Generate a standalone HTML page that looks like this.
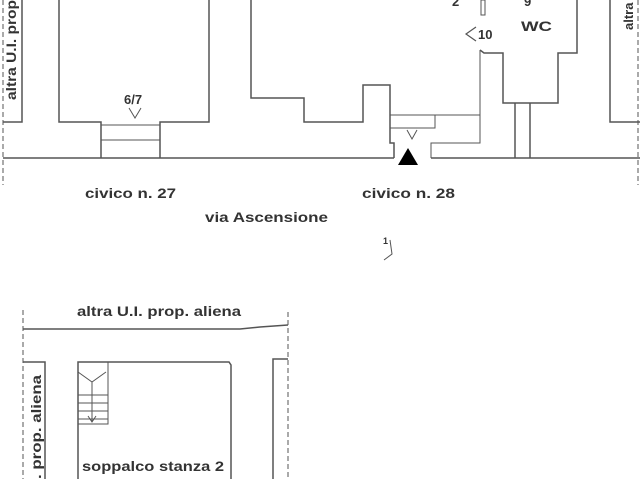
<!DOCTYPE html>
<html><head><meta charset="utf-8"><style>
html,body{margin:0;padding:0;background:#fff;}
svg{display:block;}
text{font-family:"Liberation Sans",sans-serif;font-weight:bold;fill:#333;}
</style></head><body>
<svg width="640" height="479" viewBox="0 0 640 479" xmlns="http://www.w3.org/2000/svg">
<g stroke="#555" stroke-width="1.5" fill="none">
<line x1="3" y1="0" x2="3" y2="185" stroke-dasharray="5,3" stroke-width="1"/>
<line x1="638" y1="0" x2="638" y2="185" stroke-dasharray="5,3" stroke-width="1"/>
<polyline points="22,0 22,122 3,122"/>
<polyline points="59,0 59,122 101,122 101,158"/>
<polyline points="209,0 209,122 160,122 160,158"/>
<line x1="101" y1="125" x2="160" y2="125" stroke-width="1"/>
<line x1="101" y1="140" x2="160" y2="140" stroke-width="1"/>
<polyline points="251,0 251,98 304,98 304,122 363,122 363,85 390,85 390,143 394,143 394,158"/>
<line x1="390" y1="115" x2="480" y2="115" stroke-width="1"/>
<polyline points="390,128 435,128 435,115" stroke-width="1"/>
<polyline points="480,50 480,143 431,143 431,158" stroke-width="1"/>
<polyline points="480,50 484,53 503,53 503,103 558,103 558,53 577,53 577,0"/>
<line x1="515" y1="103" x2="515" y2="158"/>
<line x1="530" y1="103" x2="530" y2="158"/>
<rect x="481" y="0" width="4" height="15" stroke-width="1"/>
<polyline points="610,0 610,122 640,122"/>
<line x1="3" y1="158" x2="394" y2="158"/>
<line x1="431" y1="158" x2="640" y2="158"/>
<polyline points="129,108 135,118 141,108" stroke-width="1"/>
<polyline points="407,130 412,139 417,130" stroke-width="1"/>
<polyline points="476,27 466,34 476,41" stroke-width="1.2"/>
<polyline points="384,260 392,254 390,240" stroke-width="1"/>
<line x1="23" y1="310" x2="23" y2="479" stroke-dasharray="5,3" stroke-width="1"/>
<line x1="288" y1="312" x2="288" y2="479" stroke-dasharray="5,3" stroke-width="1"/>
<polyline points="23,329 240,329 260,327 288,325"/>
<polyline points="23,362 45,362 45,479"/>
<polyline points="78,479 78,362 229,362 231,365 231,479"/>
<polyline points="108,362 108,424 78,424" stroke-width="1"/>
<g stroke-width="1">
<line x1="78" y1="395" x2="108" y2="395"/>
<line x1="78" y1="403" x2="108" y2="403"/>
<line x1="78" y1="411" x2="108" y2="411"/>
<line x1="78" y1="419" x2="108" y2="419"/>
<polyline points="78,372 92,382 106,372"/>
<line x1="92" y1="382" x2="92" y2="422"/>
<polyline points="88,416 92,422 96,416"/>
</g>
<polyline points="273,479 273,359 288,359"/>
</g>
<polygon points="408,148 398,165 418,165" fill="#000"/>
<g font-size="14">
<text x="85" y="198" textLength="91" lengthAdjust="spacingAndGlyphs">civico n. 27</text>
<text x="362" y="198" textLength="93" lengthAdjust="spacingAndGlyphs">civico n. 28</text>
<text x="205" y="222" textLength="123" lengthAdjust="spacingAndGlyphs">via Ascensione</text>
<text x="124" y="104" font-size="13">6/7</text>
<text x="478" y="39" font-size="13">10</text>
<text x="521" y="31" textLength="31" lengthAdjust="spacingAndGlyphs">WC</text>
<text x="452" y="6" font-size="13">2</text>
<text x="524" y="6" font-size="13">9</text>
<text x="383" y="244" font-size="9">1</text>
<text x="77" y="316" textLength="164" lengthAdjust="spacingAndGlyphs">altra U.I. prop. aliena</text>
<text x="82" y="471" textLength="142" lengthAdjust="spacingAndGlyphs">soppalco stanza 2</text>
<text transform="translate(16,100) rotate(-90)" textLength="100" lengthAdjust="spacingAndGlyphs">altra U.I. prop</text>
<text transform="translate(633,30) rotate(-90)" font-size="13">altra</text>
<text transform="translate(41,479) rotate(-90)" textLength="104" lengthAdjust="spacingAndGlyphs">. prop. aliena</text>
</g>
</svg>
</body></html>
